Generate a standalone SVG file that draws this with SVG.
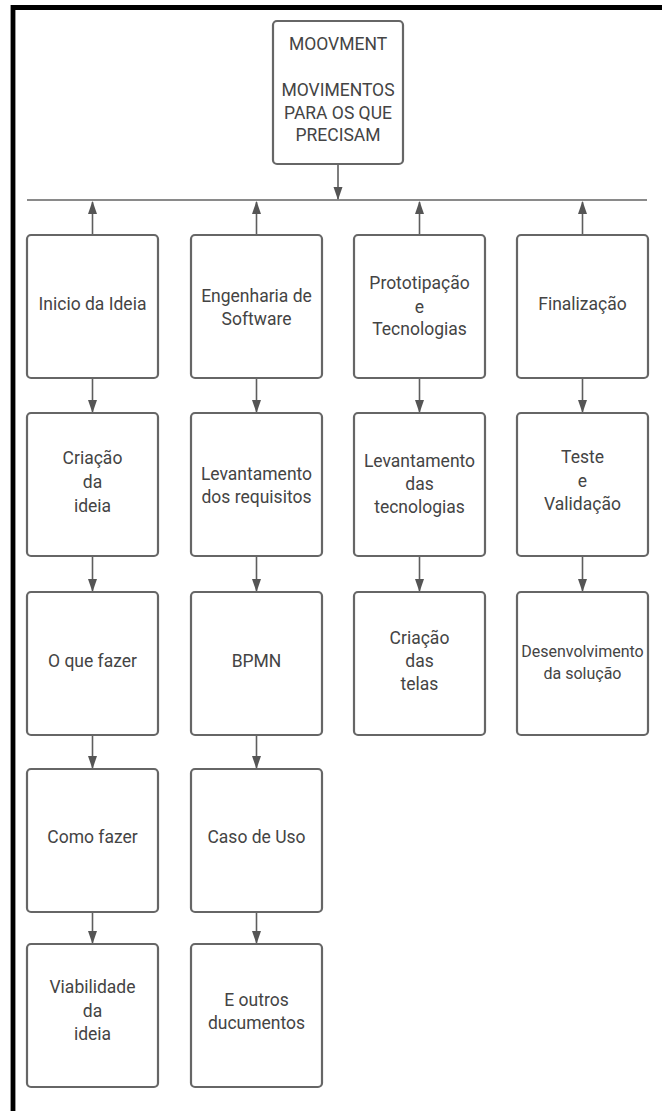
<svg xmlns="http://www.w3.org/2000/svg" width="662" height="1111" viewBox="0 0 662 1111">
<style>
.node rect{fill:#fff;stroke:#666;stroke-width:2.2}
.node text{font-family:Roboto,"Liberation Sans",Arial,sans-serif;font-size:17.5px;fill:#444;text-anchor:middle}
.conn{stroke:#5e5e5e;stroke-width:1.6;fill:none}
.bus{stroke:#8a8a8a;stroke-width:2;fill:none}
</style>
<defs>
<marker id="ah" markerUnits="userSpaceOnUse" markerWidth="13" markerHeight="10" refX="12" refY="4.5" orient="auto">
<path d="M0,0 L13,4.5 L0,9 z" fill="#555"/>
</marker>
</defs>
<rect x="0" y="0" width="662" height="1111" fill="#fff"/>
<path d="M13,1111 L13,7.5 L662,7.5" fill="none" stroke="#000" stroke-width="4.8"/>

<g id="connectors">
<path class="bus" d="M27,200 L647,200"/>
<path class="conn" d="M338,164 L338,199" marker-end="url(#ah)"/>
<path class="conn" d="M92.5,235 L92.5,202" marker-end="url(#ah)"/>
<path class="conn" d="M256.5,235 L256.5,202" marker-end="url(#ah)"/>
<path class="conn" d="M419.5,235 L419.5,202" marker-end="url(#ah)"/>
<path class="conn" d="M582.5,235 L582.5,202" marker-end="url(#ah)"/>
<path class="conn" d="M92.5,378 L92.5,412" marker-end="url(#ah)"/>
<path class="conn" d="M92.5,556 L92.5,591" marker-end="url(#ah)"/>
<path class="conn" d="M92.5,735 L92.5,768" marker-end="url(#ah)"/>
<path class="conn" d="M92.5,912 L92.5,943" marker-end="url(#ah)"/>
<path class="conn" d="M256.5,378 L256.5,412" marker-end="url(#ah)"/>
<path class="conn" d="M256.5,556 L256.5,591" marker-end="url(#ah)"/>
<path class="conn" d="M256.5,735 L256.5,768" marker-end="url(#ah)"/>
<path class="conn" d="M256.5,912 L256.5,943" marker-end="url(#ah)"/>
<path class="conn" d="M419.5,378 L419.5,412" marker-end="url(#ah)"/>
<path class="conn" d="M419.5,556 L419.5,591" marker-end="url(#ah)"/>
<path class="conn" d="M582.5,378 L582.5,412" marker-end="url(#ah)"/>
<path class="conn" d="M582.5,556 L582.5,591" marker-end="url(#ah)"/>
</g>

<g id="root" class="node">
<rect x="273" y="21" width="130" height="143" rx="4"/>
<text x="338" y="49.5">MOOVMENT</text>
<text x="338" y="96">MOVIMENTOS</text>
<text x="338" y="118.5">PARA OS QUE</text>
<text x="338" y="141">PRECISAM</text>
</g>

<g id="n-inicio" class="node">
<rect x="27" y="235" width="131" height="143" rx="4"/>
<text x="92.5" y="310">Inicio da Ideia</text>
</g>
<g id="n-criacao-ideia" class="node">
<rect x="27" y="413" width="131" height="143" rx="4"/>
<text x="92.5" y="464">Criação</text>
<text x="92.5" y="488">da</text>
<text x="92.5" y="512">ideia</text>
</g>
<g id="n-oque" class="node">
<rect x="27" y="592" width="131" height="143" rx="4"/>
<text x="92.5" y="667">O que fazer</text>
</g>
<g id="n-como" class="node">
<rect x="27" y="769" width="131" height="143" rx="4"/>
<text x="92.5" y="843">Como fazer</text>
</g>
<g id="n-viabilidade" class="node">
<rect x="27" y="944" width="131" height="143" rx="4"/>
<text x="92.5" y="993">Viabilidade</text>
<text x="92.5" y="1016.5">da</text>
<text x="92.5" y="1040">ideia</text>
</g>

<g id="n-engenharia" class="node">
<rect x="191" y="235" width="131" height="143" rx="4"/>
<text x="256.5" y="302">Engenharia de</text>
<text x="256.5" y="324.5">Software</text>
</g>
<g id="n-levantamento-req" class="node">
<rect x="191" y="413" width="131" height="143" rx="4"/>
<text x="256.5" y="480">Levantamento</text>
<text x="256.5" y="503">dos requisitos</text>
</g>
<g id="n-bpmn" class="node">
<rect x="191" y="592" width="131" height="143" rx="4"/>
<text x="256.5" y="667">BPMN</text>
</g>
<g id="n-caso" class="node">
<rect x="191" y="769" width="131" height="143" rx="4"/>
<text x="256.5" y="843">Caso de Uso</text>
</g>
<g id="n-outros" class="node">
<rect x="191" y="944" width="131" height="143" rx="4"/>
<text x="256.5" y="1006">E outros</text>
<text x="256.5" y="1028.5">ducumentos</text>
</g>

<g id="n-prototipacao" class="node">
<rect x="354" y="235" width="131" height="143" rx="4"/>
<text x="419.5" y="289">Prototipação</text>
<text x="419.5" y="312.5">e</text>
<text x="419.5" y="335">Tecnologias</text>
</g>
<g id="n-levantamento-tec" class="node">
<rect x="354" y="413" width="131" height="143" rx="4"/>
<text x="419.5" y="467">Levantamento</text>
<text x="419.5" y="490">das</text>
<text x="419.5" y="513">tecnologias</text>
</g>
<g id="n-telas" class="node">
<rect x="354" y="592" width="131" height="143" rx="4"/>
<text x="419.5" y="643.5">Criação</text>
<text x="419.5" y="667">das</text>
<text x="419.5" y="690">telas</text>
</g>

<g id="n-finalizacao" class="node">
<rect x="517" y="235" width="131" height="143" rx="4"/>
<text x="582.5" y="310">Finalização</text>
</g>
<g id="n-teste" class="node">
<rect x="517" y="413" width="131" height="143" rx="4"/>
<text x="582.5" y="463">Teste</text>
<text x="582.5" y="487">e</text>
<text x="582.5" y="510">Validação</text>
</g>
<g id="n-desenvolvimento" class="node">
<rect x="517" y="592" width="131" height="143" rx="4"/>
<text x="582.5" y="657" style="font-size:16px">Desenvolvimento</text>
<text x="582.5" y="679" style="font-size:16px">da solução</text>
</g>
</svg>
